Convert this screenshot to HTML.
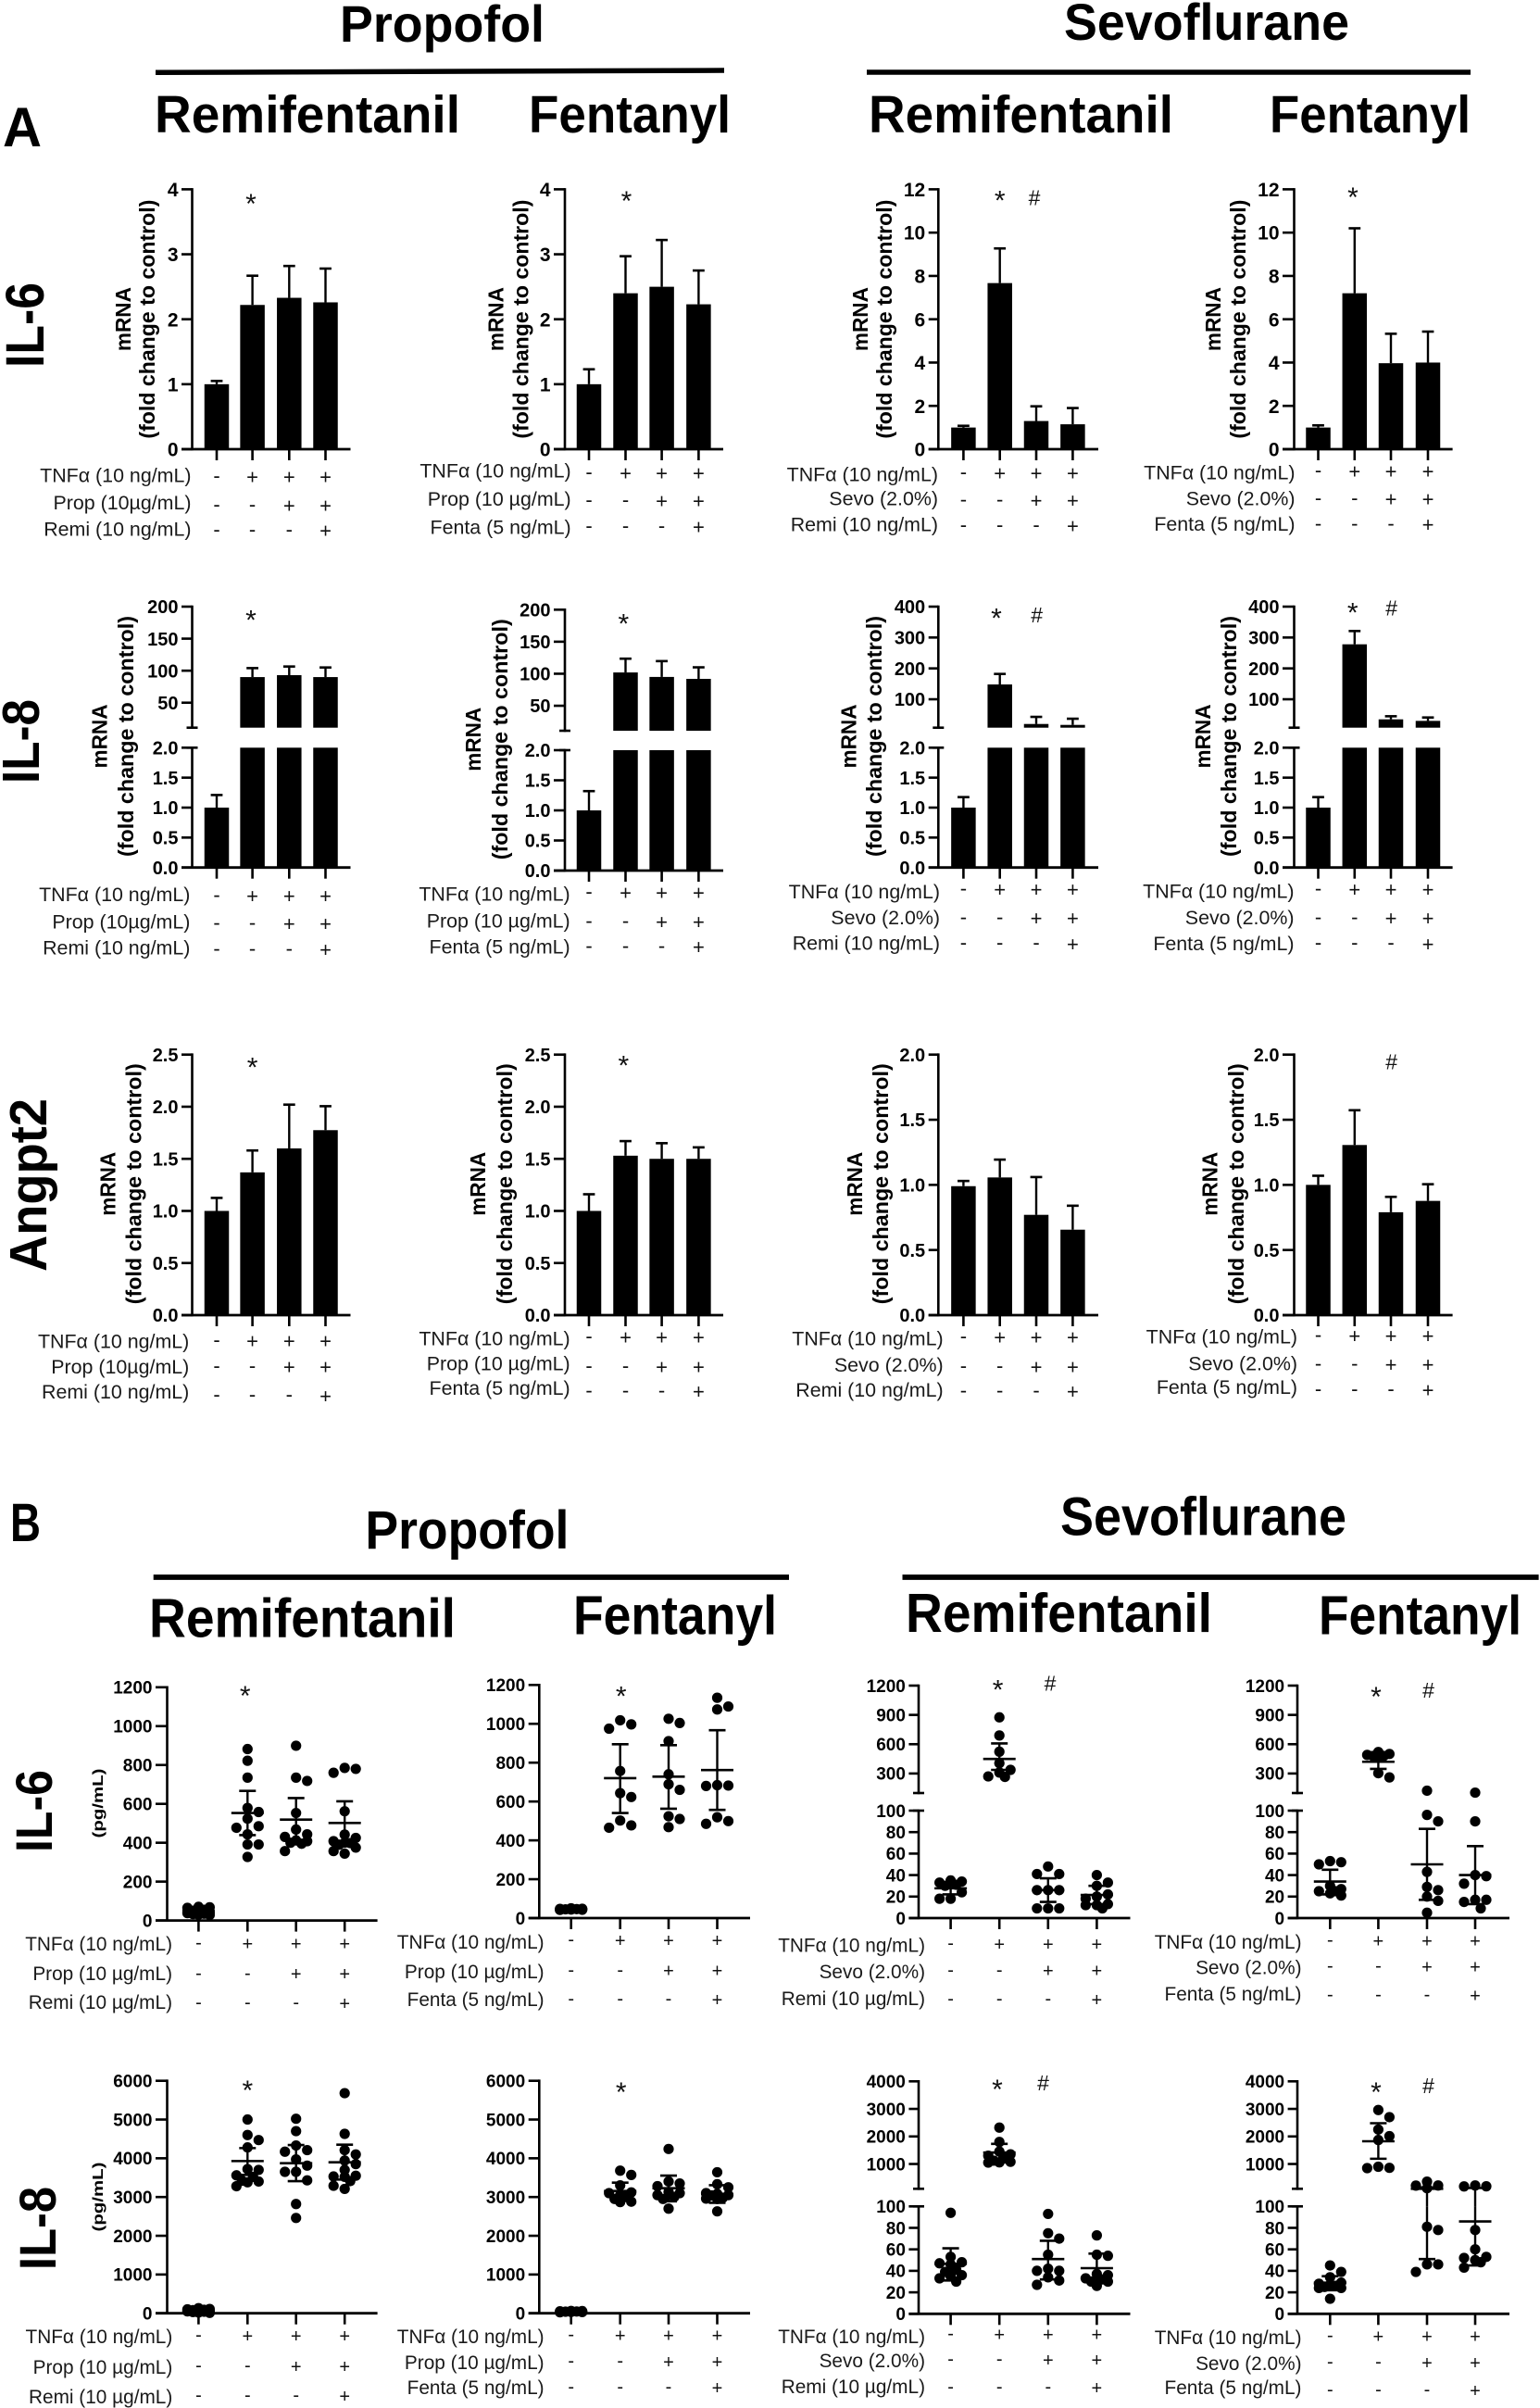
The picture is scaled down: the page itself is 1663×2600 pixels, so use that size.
<!DOCTYPE html>
<html lang="en">
<head>
<meta charset="utf-8">
<title>Cytokine expression under propofol and sevoflurane with remifentanil or fentanyl</title>
<style>
html,body{margin:0;padding:0;background:#fff;}
svg{display:block;}
text{font-family:"Liberation Sans",sans-serif;}
.t{font-weight:bold;fill:#000;}
</style>
</head>
<body>
<svg id="fig" xmlns="http://www.w3.org/2000/svg" width="1663" height="2600" viewBox="0 0 1663 2600">
<rect x="0" y="0" width="1663" height="2600" fill="#fff"/>

<text class="t" x="3" y="158" font-size="60" textLength="42" lengthAdjust="spacingAndGlyphs">A</text>
<text class="t" x="367" y="45" font-size="56" textLength="221" lengthAdjust="spacingAndGlyphs">Propofol</text>
<text class="t" x="1149" y="43" font-size="56" textLength="308" lengthAdjust="spacingAndGlyphs">Sevoflurane</text>
<line x1="168" y1="78.3" x2="782" y2="76" stroke="#000" stroke-width="5.5"/>
<line x1="936" y1="78" x2="1588" y2="78" stroke="#000" stroke-width="5.5"/>
<text class="t" x="167" y="143" font-size="57" textLength="330" lengthAdjust="spacingAndGlyphs">Remifentanil</text>
<text class="t" x="571" y="143" font-size="57" textLength="218" lengthAdjust="spacingAndGlyphs">Fentanyl</text>
<text class="t" x="938" y="143" font-size="57" textLength="329" lengthAdjust="spacingAndGlyphs">Remifentanil</text>
<text class="t" x="1371" y="143" font-size="57" textLength="217" lengthAdjust="spacingAndGlyphs">Fentanyl</text>
<text class="t" transform="translate(47,397) rotate(-90)" font-size="58" textLength="92" lengthAdjust="spacingAndGlyphs">IL-6</text>
<text class="t" transform="translate(42,846) rotate(-90)" font-size="57" textLength="91" lengthAdjust="spacingAndGlyphs">IL-8</text>
<text class="t" transform="translate(50,1373) rotate(-90)" font-size="57" textLength="187" lengthAdjust="spacingAndGlyphs">Angpt2</text>

<text class="t" x="11" y="1664" font-size="58" textLength="33" lengthAdjust="spacingAndGlyphs">B</text>
<text class="t" x="394.4" y="1671.8" font-size="58" textLength="220" lengthAdjust="spacingAndGlyphs">Propofol</text>
<text class="t" x="1145" y="1657.5" font-size="58" textLength="309" lengthAdjust="spacingAndGlyphs">Sevoflurane</text>
<line x1="165.7" y1="1703" x2="852" y2="1703" stroke="#000" stroke-width="5.7"/>
<line x1="974.5" y1="1703" x2="1661.6" y2="1703" stroke="#000" stroke-width="5.7"/>
<text class="t" x="161" y="1767.5" font-size="59" textLength="331" lengthAdjust="spacingAndGlyphs">Remifentanil</text>
<text class="t" x="619" y="1764.6" font-size="59" textLength="220" lengthAdjust="spacingAndGlyphs">Fentanyl</text>
<text class="t" x="978" y="1761.8" font-size="59" textLength="331" lengthAdjust="spacingAndGlyphs">Remifentanil</text>
<text class="t" x="1424" y="1764.6" font-size="59" textLength="219" lengthAdjust="spacingAndGlyphs">Fentanyl</text>
<text class="t" transform="translate(56,2000) rotate(-90)" font-size="56" textLength="89" lengthAdjust="spacingAndGlyphs">IL-6</text>
<text class="t" transform="translate(60,2451) rotate(-90)" font-size="56" textLength="90" lengthAdjust="spacingAndGlyphs">IL-8</text>
</svg>

<script>
/* ---------- DATA: panel A (bar charts, mean and upper error) ---------- */
const il6PropRemiMeans = [1, 2.22, 2.33, 2.26];
const il6PropRemiErrs = [0.05, 0.45, 0.49, 0.52];
const il6PropFentaMeans = [1, 2.4, 2.5, 2.23];
const il6PropFentaErrs = [0.23, 0.57, 0.72, 0.52];
const il6SevoRemiMeans = [1, 7.67, 1.3, 1.15];
const il6SevoRemiErrs = [0.08, 1.6, 0.68, 0.75];
const il6SevoFentaMeans = [1, 7.2, 3.97, 4.0];
const il6SevoFentaErrs = [0.1, 3.0, 1.36, 1.43];

const il8PropRemiMeans = [1, 90, 93, 90];
const il8PropRemiErrs = [0.21, 14, 13.5, 15];
const il8PropFentaMeans = [1, 102, 95, 92];
const il8PropFentaErrs = [0.32, 21.5, 24.7, 18];
const il8SevoRemiMeans = [1, 148, 20, 17];
const il8SevoRemiErrs = [0.175, 34, 23, 20];
const il8SevoFentaMeans = [1, 278, 35, 30];
const il8SevoFentaErrs = [0.175, 43, 10, 11];

const angPropRemiMeans = [1, 1.37, 1.6, 1.775];
const angPropRemiErrs = [0.125, 0.21, 0.42, 0.23];
const angPropFentaMeans = [1, 1.53, 1.5, 1.5];
const angPropFentaErrs = [0.16, 0.14, 0.15, 0.11];
const angSevoRemiMeans = [0.99, 1.057, 0.77, 0.656];
const angSevoRemiErrs = [0.04, 0.137, 0.29, 0.184];
const angSevoFentaMeans = [1, 1.306, 0.79, 0.877];
const angSevoFentaErrs = [0.07, 0.267, 0.118, 0.128];

/* ---------- DATA: panel B (scatter points, mean, SD limits) ---------- */
const bIl6PropRemiG1 = [70, 68, 65, 55, 50, 45, 40, 38, 35, 33, 30, 28];
const bIl6PropRemiG2 = [882, 822, 735, 579, 558, 524, 485, 477, 443, 391, 391, 327];
const bIl6PropRemiG3 = [899, 735, 718, 553, 468, 443, 430, 412, 408, 400, 395, 357];
const bIl6PropRemiG4 = [785, 780, 760, 562, 442, 425, 408, 400, 398, 390, 375, 357, 344];
const bIl6PropRemiMeans = [50, 553, 519, 502];
const bIl6PropRemiHighs = [63, 667, 630, 613];
const bIl6PropRemiLows = [37, 439, 408, 391];

const bIl6PropFentaG1 = [50, 48, 47, 46, 45, 44, 43, 42];
const bIl6PropFentaG2 = [1018, 997, 975, 757, 643, 623, 502, 477, 465];
const bIl6PropFentaG3 = [1026, 1004, 911, 740, 689, 660, 524, 510, 468];
const bIl6PropFentaG4 = [1134, 1089, 1074, 684, 682, 680, 519, 499, 485];
const bIl6PropFentaMeans = [45, 720, 728, 762];
const bIl6PropFentaHighs = [50, 895, 890, 967];
const bIl6PropFentaLows = [40, 541, 563, 557];

const bIl6SevoRemiG1 = [35, 34, 33, 31, 30, 24, 18, 18];
const bIl6SevoRemiG2 = [875, 689, 523, 405, 337, 310, 270, 265];
const bIl6SevoRemiG3 = [48, 41, 41, 26, 26, 26, 9, 9, 9];
const bIl6SevoRemiG4 = [40, 33, 30, 22, 20, 18, 13, 12, 12, 9];
const bIl6SevoRemiMeans = [27.7, 449, 26, 21.5];
const bIl6SevoRemiHighs = [33, 608, 37, 30];
const bIl6SevoRemiLows = [22, 337, 15, 13];

const bIl6SevoFentaG1 = [53, 52, 50, 30, 27, 25, 25, 23, 21];
const bIl6SevoFentaG2 = [520, 500, 490, 480, 480, 470, 303, 260];
const bIl6SevoFentaG3 = [124, 96, 90, 43, 29, 26, 20, 16, 5];
const bIl6SevoFentaG4 = [104, 90, 40, 39, 32, 17, 17, 15, 9];
const bIl6SevoFentaMeans = [34, 420, 50, 40];
const bIl6SevoFentaHighs = [45, 490, 83, 67];
const bIl6SevoFentaLows = [22, 347, 17, 13];

const bIl8PropRemiG1 = [130, 110, 100, 90, 80, 70, 60, 50, 40, 30, 20, 10];
const bIl8PropRemiG2 = [5000, 4600, 4470, 4280, 3720, 3700, 3560, 3520, 3420, 3400, 3380, 3280];
const bIl8PropRemiG3 = [5020, 4700, 4330, 4210, 4170, 3970, 3810, 3650, 3650, 3430, 2820, 2460];
const bIl8PropRemiG4 = [5680, 4630, 4210, 4100, 3940, 3850, 3700, 3550, 3530, 3520, 3410, 3290, 3210];
const bIl8PropRemiMeans = [70, 3928, 3873, 3896];
const bIl8PropRemiHighs = [110, 4263, 4343, 4351];
const bIl8PropRemiLows = [30, 3570, 3410, 3450];

const bIl8PropFentaG1 = [60, 55, 50, 45, 40, 35, 30, 25];
const bIl8PropFentaG2 = [3680, 3570, 3300, 3120, 3100, 3050, 3000, 2950, 2880, 2870];
const bIl8PropFentaG3 = [4240, 3400, 3350, 3280, 3130, 3100, 3050, 3000, 2950, 2700];
const bIl8PropFentaG4 = [3640, 3330, 3250, 3100, 3080, 3050, 3040, 2980, 2960, 2950, 2630];
const bIl8PropFentaMeans = [40, 3155, 3227, 3075];
const bIl8PropFentaHighs = [60, 3370, 3554, 3306];
const bIl8PropFentaLows = [20, 2970, 2890, 2852];

const bIl8SevoRemiG1 = [94, 53, 48, 47, 46, 41, 39, 36, 35, 33, 30];
const bIl8SevoRemiG2 = [2320, 1800, 1450, 1350, 1300, 1200, 1120, 1080, 1060, 1050];
const bIl8SevoRemiG3 = [93, 75, 70, 55, 42, 40, 40, 34, 31, 27];
const bIl8SevoRemiG4 = [73, 55, 54, 37, 36, 33, 32, 30, 30, 26];
const bIl8SevoRemiMeans = [46.5, 1415, 51, 42.5];
const bIl8SevoRemiHighs = [61, 1730, 68, 56];
const bIl8SevoRemiLows = [31, 1100, 32, 29];

const bIl8SevoFentaG1 = [45, 39, 34, 29, 28, 27, 26, 25, 24, 24, 14];
const bIl8SevoFentaG2 = [2960, 2700, 2250, 2010, 1870, 900, 860, 850];
const bIl8SevoFentaG3 = [360, 220, 215, 120, 81, 78, 46, 46, 39];
const bIl8SevoFentaG4 = [220, 190, 185, 78, 60, 53, 52, 50, 48, 43];
const bIl8SevoFentaMeans = [29, 1825, 101, 86];
const bIl8SevoFentaHighs = [35, 2480, 150, 130];
const bIl8SevoFentaLows = [22, 1190, 51, 45];

/* ---------- DATA: tick labels ---------- */
const ticksFold4 = ['0', '1', '2', '3', '4'];
const ticksFold12 = ['0', '2', '4', '6', '8', '10', '12'];
const ticksLower2 = ['0.0', '0.5', '1.0', '1.5', '2.0'];
const ticksUpper200 = ['50', '100', '150', '200'];
const ticksUpper400 = ['100', '200', '300', '400'];
const ticksFold25 = ['0.0', '0.5', '1.0', '1.5', '2.0', '2.5'];
const ticksPg1200 = ['0', '200', '400', '600', '800', '1000', '1200'];
const ticksPg6000 = ['0', '1000', '2000', '3000', '4000', '5000', '6000'];
const ticksLower100 = ['0', '20', '40', '60', '80', '100'];
const ticksUpper1200 = ['300', '600', '900', '1200'];
const ticksUpper4000 = ['1000', '2000', '3000', '4000'];

/* treatment labels and +/- matrix */
const rowTnf = ['-', '+', '+', '+'];
const rowSecond = ['-', '-', '+', '+'];
const rowThird = ['-', '-', '-', '+'];

const SVGNS = 'http://www.w3.org/2000/svg';
const fig = document.getElementById('fig');

function newGroup(name) {
  const el = document.createElementNS(SVGNS, 'g');
  
  
  fig.appendChild(el);
  return el;
}
function line(g, name, x1, y1, x2, y2, w) {
  const el = document.createElementNS(SVGNS, 'line');
  
  
  el.setAttribute('x1', x1);
  el.setAttribute('y1', y1);
  el.setAttribute('x2', x2);
  el.setAttribute('y2', y2);
  el.setAttribute('stroke', '#000');
  el.setAttribute('stroke-width', w);
  g.appendChild(el);
}
function rect(g, name, x, y, w, h) {
  const el = document.createElementNS(SVGNS, 'rect');
  
  
  el.setAttribute('x', x);
  el.setAttribute('y', y);
  el.setAttribute('width', w);
  el.setAttribute('height', Math.max(0, h));
  el.setAttribute('fill', '#000');
  g.appendChild(el);
}
function dot(g, name, x, y) {
  const el = document.createElementNS(SVGNS, 'circle');
  
  
  el.setAttribute('cx', x);
  el.setAttribute('cy', y);
  el.setAttribute('r', 5.6);
  el.setAttribute('fill', '#000');
  g.appendChild(el);
}
function label(g, name, x, y, str, size, anchor, bold, fill, rot, len) {
  const el = document.createElementNS(SVGNS, 'text');
  
  
  if (rot) {
    el.setAttribute('transform', 'translate(' + x + ',' + y + ') rotate(' + rot + ')');
  } else {
    el.setAttribute('x', x);
    el.setAttribute('y', y);
  }
  el.setAttribute('font-size', size);
  el.setAttribute('text-anchor', anchor);
  el.setAttribute('font-weight', bold ? 'bold' : 'normal');
  el.setAttribute('fill', fill);
  if (len) {
    el.setAttribute('textLength', len);
    el.setAttribute('lengthAdjust', 'spacingAndGlyphs');
  }
  el.textContent = str;
  g.appendChild(el);
}

/* y axis: optional two-segment scale */
function makeY(geo) {
  return function (v) {
    if (geo.upTop === undefined || v <= geo.lowMax) {
      return geo.y0 + (geo.yTop - geo.y0) * (v / geo.lowMax);
    }
    return geo.upBot + (geo.upTop - geo.upBot) * ((v - geo.upMin) / (geo.upMax - geo.upMin));
  };
}

function drawAxes(g, geo, y, lowTicks, highTicks, tickFont) {
  line(g, 'y-axis-lower', geo.ax, geo.y0 + 1.2, geo.ax, geo.yTop - 1.3, 2.6);
  line(g, 'x-axis', geo.left, geo.y0, geo.xEnd, geo.y0, 2.8);
  lowTicks.forEach(function (t) {
    const yy = y(Number(t));
    line(g, 'y-tick', geo.left, yy, geo.ax, yy, 2.6);
    label(g, 'y-tick-label', geo.left - 3.5, yy + tickFont * 0.36, t, tickFont, 'end', true, '#000');
  });
  if (geo.upTop !== undefined) {
    line(g, 'y-axis-upper', geo.ax, geo.upBot + 1.3, geo.ax, geo.upTop - 1.3, 2.6);
    line(g, 'y-break-tick-lower', geo.ax - 6, geo.yTop, geo.ax + 6, geo.yTop, 2.6);
    line(g, 'y-break-tick-upper', geo.ax - 6, geo.upBot, geo.ax + 6, geo.upBot, 2.6);
    highTicks.forEach(function (t) {
      const yy = y(Number(t));
      line(g, 'y-tick', geo.left, yy, geo.ax, yy, 2.6);
      label(g, 'y-tick-label', geo.left - 3.5, yy + tickFont * 0.36, t, tickFont, 'end', true, '#000');
    });
  }
  geo.cats.forEach(function (c) {
    line(g, 'x-tick', c, geo.y0, c, geo.y0 + 12, 2.6);
  });
}

function drawMarks(g, marks) {
  marks.forEach(function (m) {
    if (m[0] === '*') {
      label(g, 'significance-star', m[1], m[2] + 17, '*', 30, 'middle', false, '#111');
    } else {
      label(g, 'significance-hash', m[1], m[2] + 8, '#', 23, 'middle', false, '#111');
    }
  });
}

function drawConditions(g, geo, names, font, signFont) {
  const rows = [rowTnf, rowSecond, rowThird];
  names.forEach(function (n, i) {
    label(g, 'treatment-label', geo.condRight, geo.condY[i] + font * 0.34, n, font, 'end', false, '#1a1a1a');
    rows[i].forEach(function (s, j) {
      const off = s === '+' ? signFont * 0.34 : signFont * 0.27;
      label(g, s === '+' ? 'treatment-plus' : 'treatment-minus', geo.cats[j], geo.signY[i] + off, s, signFont, 'middle', false, '#111');
    });
  });
}

/* vertical line that breaks across the axis gap */
function errLine(g, geo, y, x, lo, hi) {
  if (geo.upTop === undefined) {
    line(g, 'error-bar', x, y(lo), x, y(hi), 2.4);
    return;
  }
  if (lo <= geo.lowMax) {
    line(g, 'error-bar', x, y(lo), x, y(Math.min(hi, geo.lowMax)), 2.4);
  }
  if (hi > geo.lowMax) {
    line(g, 'error-bar', x, y(Math.max(lo, geo.upMin)), x, y(hi), 2.4);
  }
}

function barPanel(name, geo, means, errs, lowTicks, highTicks, titleGeo, names) {
  const g = newGroup(name);
  const y = makeY(geo);
  const bw = 26.5;
  means.forEach(function (m, i) {
    const c = geo.cats[i];
    const top = m + errs[i];
    errLine(g, geo, y, c, m, top);
    line(g, 'error-cap', c - 6.4, y(top), c + 6.4, y(top), 2.6);
    if (geo.upTop !== undefined && m > geo.lowMax) {
      rect(g, 'bar-lower', c - bw / 2, geo.yTop, bw, geo.y0 - geo.yTop);
      rect(g, 'bar-upper', c - bw / 2, y(m), bw, geo.upBot - y(m));
    } else {
      rect(g, 'bar', c - bw / 2, y(m), bw, geo.y0 - y(m));
    }
  });
  drawAxes(g, geo, y, lowTicks, highTicks, geo.tickFont);
  label(g, 'y-axis-title-line1', titleGeo.x1, titleGeo.cy, 'mRNA', 23, 'middle', true, '#000', -90, 69);
  label(g, 'y-axis-title-line2', titleGeo.x2, titleGeo.cy, '(fold change to control)', 23, 'middle', true, '#000', -90, titleGeo.len);
  drawMarks(g, geo.marks);
  drawConditions(g, geo, names, 21.4, 22);
}

/* beeswarm offsets are derived from the values */
function swarm(vals, y) {
  const sorted = vals.slice().sort(function (a, b) { return b - a; });
  const slots = [0, 12, -12, 6, -6];
  const placed = [];
  sorted.forEach(function (v) {
    const yy = y(v);
    let best = 0;
    let bestClear = -1;
    for (let k = 0; k < slots.length; k++) {
      let clear = 1e9;
      placed.forEach(function (p) {
        clear = Math.min(clear, Math.hypot(p.dx - slots[k], p.y - yy));
      });
      if (clear >= 10) {
        best = slots[k];
        bestClear = clear;
        break;
      }
      if (clear > bestClear) {
        best = slots[k];
        bestClear = clear;
      }
    }
    placed.push({ dx: best, y: yy });
  });
  return placed;
}

function scatterPanel(name, geo, groups, means, highs, lows, lowTicks, highTicks, unitY, names) {
  const g = newGroup(name);
  const y = makeY(geo);
  groups.forEach(function (vals, i) {
    swarm(vals, y).forEach(function (p) {
      dot(g, 'data-point', geo.cats[i] + p.dx, p.y);
    });
  });
  means.forEach(function (m, i) {
    const c = geo.cats[i];
    errLine(g, geo, y, c, lows[i], highs[i]);
    line(g, 'mean-line', c - 17.5, y(m), c + 17.5, y(m), 2.6);
    line(g, 'sd-cap-high', c - 9, y(highs[i]), c + 9, y(highs[i]), 2.6);
    line(g, 'sd-cap-low', c - 9, y(lows[i]), c + 9, y(lows[i]), 2.6);
  });
  drawAxes(g, geo, y, lowTicks, highTicks, 19);
  if (unitY) {
    label(g, 'y-axis-title', 111, unitY, '(pg/mL)', 16, 'middle', true, '#000', -90, 75);
  }
  drawMarks(g, geo.marks);
  drawConditions(g, geo, names, 20.8, 20);
}

/* ---------- Layout ---------- */
const namesPR = ['TNFα (10 ng/mL)', 'Prop (10µg/mL)', 'Remi (10 ng/mL)'];
const namesPF = ['TNFα (10 ng/mL)', 'Prop (10 µg/mL)', 'Fenta (5 ng/mL)'];
const namesSR = ['TNFα (10 ng/mL)', 'Sevo (2.0%)', 'Remi (10 ng/mL)'];
const namesSF = ['TNFα (10 ng/mL)', 'Sevo (2.0%)', 'Fenta (5 ng/mL)'];
const namesBPR = ['TNFα (10 ng/mL)', 'Prop (10 µg/mL)', 'Remi (10 µg/mL)'];
const namesBPF = ['TNFα (10 ng/mL)', 'Prop (10 µg/mL)', 'Fenta (5 ng/mL)'];
const namesBSR = ['TNFα (10 ng/mL)', 'Sevo (2.0%)', 'Remi (10 µg/mL)'];
const namesBSF = ['TNFα (10 ng/mL)', 'Sevo (2.0%)', 'Fenta (5 ng/mL)'];

const xA1 = { ax: 207.5, left: 196, xEnd: 378.5, cats: [234, 272.6, 312.3, 351.5] };
const xA2 = { ax: 610, left: 598, xEnd: 781, cats: [636, 675.5, 714.6, 754.4] };
const xA3 = { ax: 1013.3, left: 1002.7, xEnd: 1186, cats: [1040.4, 1079.7, 1119, 1158.4] };
const xA4 = { ax: 1397.5, left: 1385, xEnd: 1568.6, cats: [1423.5, 1462.8, 1502, 1542] };
const xB1 = { ax: 180.5, left: 168, xEnd: 407.6, cats: [214.4, 267.3, 319.7, 372.2] };
const xB2 = { ax: 582.3, left: 570.7, xEnd: 810, cats: [616.7, 669.7, 722, 774.5] };
const xB3 = { ax: 992, left: 981.4, xEnd: 1220.5, cats: [1026.6, 1079.2, 1131.8, 1184.4] };
const xB4 = { ax: 1401, left: 1390.6, xEnd: 1630, cats: [1436.3, 1488.4, 1541, 1593] };

function geom(x, extra) {
  return Object.assign({}, x, extra);
}

/* Row A: IL-6 */
barPanel('chart-a-il6-propofol-remifentanil', geom(xA1, { y0: 485, yTop: 204.4, lowMax: 4, tickFont: 21,
  condRight: 206.5, condY: [513, 542.5, 571], signY: [515, 546, 573], marks: [['*', 271, 213]] }),
  il6PropRemiMeans, il6PropRemiErrs, ticksFold4, [], { x1: 141, x2: 167, cy: 344.6, len: 258 }, namesPR);
barPanel('chart-a-il6-propofol-fentanyl', geom(xA2, { y0: 485, yTop: 204.4, lowMax: 4, tickFont: 21,
  condRight: 616.7, condY: [508, 538.6, 569], signY: [511, 541, 569], marks: [['*', 676.5, 210]] }),
  il6PropFentaMeans, il6PropFentaErrs, ticksFold4, [], { x1: 543.7, x2: 570.7, cy: 344.6, len: 258 }, namesPF);
barPanel('chart-a-il6-sevoflurane-remifentanil', geom(xA3, { y0: 485, yTop: 204.4, lowMax: 12, tickFont: 21,
  condRight: 1013, condY: [512, 538, 566], signY: [511, 540.5, 568], marks: [['*', 1079.7, 209.6], ['#', 1117, 213.5]] }),
  il6SevoRemiMeans, il6SevoRemiErrs, ticksFold12, [], { x1: 937, x2: 963, cy: 344.6, len: 258 }, namesSR);
barPanel('chart-a-il6-sevoflurane-fentanyl', geom(xA4, { y0: 485, yTop: 204.4, lowMax: 12, tickFont: 21,
  condRight: 1398.5, condY: [510, 538, 565.5], signY: [509, 539, 566.6], marks: [['*', 1461, 206]] }),
  il6SevoFentaMeans, il6SevoFentaErrs, ticksFold12, [], { x1: 1318, x2: 1345, cy: 344.6, len: 258 }, namesSF);

/* Row A: IL-8 */
barPanel('chart-a-il8-propofol-remifentanil', geom(xA1, { y0: 936.7, yTop: 807.3, lowMax: 2, upBot: 785.7, upTop: 655, upMin: 11, upMax: 200, tickFont: 20,
  condRight: 205.4, condY: [965.7, 995, 1023.3], signY: [967.7, 997.7, 1025.7], marks: [['*', 271, 662.4]] }),
  il8PropRemiMeans, il8PropRemiErrs, ticksLower2, ticksUpper200, { x1: 115.4, x2: 144, cy: 795, len: 260 }, namesPR);
barPanel('chart-a-il8-propofol-fentanyl', geom(xA2, { y0: 940, yTop: 810, lowMax: 2, upBot: 789, upTop: 658.3, upMin: 11, upMax: 200, tickFont: 20,
  condRight: 615.7, condY: [965, 994, 1022.4], signY: [964.2, 995.7, 1022.4], marks: [['*', 673.4, 666.6]] }),
  il8PropFentaMeans, il8PropFentaErrs, ticksLower2, ticksUpper200, { x1: 518.8, x2: 548, cy: 798.3, len: 260 }, namesPF);
barPanel('chart-a-il8-sevoflurane-remifentanil', geom(xA3, { y0: 936.7, yTop: 807.3, lowMax: 2, upBot: 785.7, upTop: 655, upMin: 8, upMax: 400, tickFont: 20,
  condRight: 1015, condY: [962.6, 990.7, 1018.3], signY: [960.7, 991.7, 1019.3], marks: [['*', 1076, 660.7], ['#', 1119.6, 664]] }),
  il8SevoRemiMeans, il8SevoRemiErrs, ticksLower2, ticksUpper400, { x1: 924.6, x2: 952, cy: 795, len: 260 }, namesSR);
barPanel('chart-a-il8-sevoflurane-fentanyl', geom(xA4, { y0: 936.7, yTop: 807.3, lowMax: 2, upBot: 785.7, upTop: 655, upMin: 8, upMax: 400, tickFont: 20,
  condRight: 1397.5, condY: [962, 990.7, 1018.8], signY: [960.7, 991.7, 1019.3], marks: [['*', 1460.7, 654.3], ['#', 1502.7, 656.7]] }),
  il8SevoFentaMeans, il8SevoFentaErrs, ticksLower2, ticksUpper400, { x1: 1307, x2: 1335, cy: 795, len: 260 }, namesSF);

/* Row A: Angpt2 */
barPanel('chart-a-angpt2-propofol-remifentanil', geom(xA1, { y0: 1420, yTop: 1138.7, lowMax: 2.5, tickFont: 20,
  condRight: 204.3, condY: [1448.2, 1475.7, 1502.8], signY: [1448.2, 1476, 1507.3], marks: [['*', 272.6, 1145.6]] }),
  angPropRemiMeans, angPropRemiErrs, ticksFold25, [], { x1: 124.4, x2: 152.5, cy: 1278.3, len: 260 }, namesPR);
barPanel('chart-a-angpt2-propofol-fentanyl', geom(xA2, { y0: 1420, yTop: 1138.7, lowMax: 2.5, tickFont: 20,
  condRight: 615.7, condY: [1445, 1472, 1498.8], signY: [1444.2, 1476, 1502.4], marks: [['*', 673.4, 1143.3]] }),
  angPropFentaMeans, angPropFentaErrs, ticksFold25, [], { x1: 524, x2: 553, cy: 1278.3, len: 260 }, namesPF);
barPanel('chart-a-angpt2-sevoflurane-remifentanil', geom(xA3, { y0: 1420, yTop: 1138.7, lowMax: 2, tickFont: 20,
  condRight: 1018.6, condY: [1445, 1473.5, 1500.8], signY: [1444.2, 1476, 1502.4], marks: [] }),
  angSevoRemiMeans, angSevoRemiErrs, ticksLower2, [], { x1: 931, x2: 959, cy: 1278.3, len: 260 }, namesSR);
barPanel('chart-a-angpt2-sevoflurane-fentanyl', geom(xA4, { y0: 1420, yTop: 1138.7, lowMax: 2, tickFont: 20,
  condRight: 1401, condY: [1443.2, 1472, 1497.5], signY: [1442.6, 1473.5, 1501], marks: [['#', 1502.7, 1146.6]] }),
  angSevoFentaMeans, angSevoFentaErrs, ticksLower2, [], { x1: 1314.6, x2: 1342.8, cy: 1278.3, len: 260 }, namesSF);

/* Row B: IL-6 */
scatterPanel('chart-b-il6-propofol-remifentanil', geom(xB1, { y0: 2073.6, yTop: 1821.8, lowMax: 1200,
  condRight: 186, condY: [2099, 2130.7, 2162], signY: [2098.6, 2131.4, 2163], marks: [['*', 264.7, 1824]] }),
  [bIl6PropRemiG1, bIl6PropRemiG2, bIl6PropRemiG3, bIl6PropRemiG4], bIl6PropRemiMeans, bIl6PropRemiHighs, bIl6PropRemiLows,
  ticksPg1200, [], 1947, namesBPR);
scatterPanel('chart-b-il6-propofol-fentanyl', geom(xB2, { y0: 2071, yTop: 1819.3, lowMax: 1200,
  condRight: 587.6, condY: [2096.8, 2129, 2159], signY: [2095, 2127.9, 2159.3], marks: [['*', 670.7, 1824.6]] }),
  [bIl6PropFentaG1, bIl6PropFentaG2, bIl6PropFentaG3, bIl6PropFentaG4], bIl6PropFentaMeans, bIl6PropFentaHighs, bIl6PropFentaLows,
  ticksPg1200, [], 0, namesBPF);
scatterPanel('chart-b-il6-sevoflurane-remifentanil', geom(xB3, { y0: 2071, yTop: 1955, lowMax: 100, upBot: 1936, upTop: 1820, upMin: 100, upMax: 1200,
  condRight: 999, condY: [2100.4, 2129, 2158], signY: [2099, 2127.9, 2159.3], marks: [['*', 1077.6, 1817.5], ['#', 1134, 1817.5]] }),
  [bIl6SevoRemiG1, bIl6SevoRemiG2, bIl6SevoRemiG3, bIl6SevoRemiG4], bIl6SevoRemiMeans, bIl6SevoRemiHighs, bIl6SevoRemiLows,
  ticksLower100, ticksUpper1200, 0, namesBSR);
scatterPanel('chart-b-il6-sevoflurane-fentanyl', geom(xB4, { y0: 2071, yTop: 1955, lowMax: 100, upBot: 1936, upTop: 1820, upMin: 100, upMax: 1200,
  condRight: 1405.5, condY: [2096.8, 2124.3, 2152.9], signY: [2095.7, 2123.6, 2154.6], marks: [['*', 1486, 1825], ['#', 1542.5, 1825]] }),
  [bIl6SevoFentaG1, bIl6SevoFentaG2, bIl6SevoFentaG3, bIl6SevoFentaG4], bIl6SevoFentaMeans, bIl6SevoFentaHighs, bIl6SevoFentaLows,
  ticksLower100, ticksUpper1200, 0, namesBSF);

/* Row B: IL-8 */
scatterPanel('chart-b-il8-propofol-remifentanil', geom(xB1, { y0: 2497.7, yTop: 2246.7, lowMax: 6000,
  condRight: 186.3, condY: [2523, 2556, 2587.7], signY: [2522, 2555, 2587], marks: [['*', 267.3, 2250]] }),
  [bIl8PropRemiG1, bIl8PropRemiG2, bIl8PropRemiG3, bIl8PropRemiG4], bIl8PropRemiMeans, bIl8PropRemiHighs, bIl8PropRemiLows,
  ticksPg6000, [], 2372, namesBPR);
scatterPanel('chart-b-il8-propofol-fentanyl', geom(xB2, { y0: 2497.7, yTop: 2246.7, lowMax: 6000,
  condRight: 587.6, condY: [2523, 2550.7, 2578], signY: [2521.7, 2550, 2578], marks: [['*', 670.7, 2252]] }),
  [bIl8PropFentaG1, bIl8PropFentaG2, bIl8PropFentaG3, bIl8PropFentaG4], bIl8PropFentaMeans, bIl8PropFentaHighs, bIl8PropFentaLows,
  ticksPg6000, [], 0, namesBPF);
scatterPanel('chart-b-il8-sevoflurane-remifentanil', geom(xB3, { y0: 2498.3, yTop: 2382.3, lowMax: 100, upBot: 2363.3, upTop: 2247.3, upMin: 100, upMax: 4000,
  condRight: 999, condY: [2522.7, 2549, 2576.7], signY: [2520.7, 2548.3, 2578], marks: [['*', 1077, 2249], ['#', 1126.5, 2249]] }),
  [bIl8SevoRemiG1, bIl8SevoRemiG2, bIl8SevoRemiG3, bIl8SevoRemiG4], bIl8SevoRemiMeans, bIl8SevoRemiHighs, bIl8SevoRemiLows,
  ticksLower100, ticksUpper4000, 0, namesBSR);
scatterPanel('chart-b-il8-sevoflurane-fentanyl', geom(xB4, { y0: 2498.3, yTop: 2382.3, lowMax: 100, upBot: 2363.3, upTop: 2247.3, upMin: 100, upMax: 4000,
  condRight: 1405.5, condY: [2524, 2551.7, 2578], signY: [2522.7, 2551, 2581], marks: [['*', 1486, 2252], ['#', 1542.5, 2252]] }),
  [bIl8SevoFentaG1, bIl8SevoFentaG2, bIl8SevoFentaG3, bIl8SevoFentaG4], bIl8SevoFentaMeans, bIl8SevoFentaHighs, bIl8SevoFentaLows,
  ticksLower100, ticksUpper4000, 0, namesBSF);
</script>
</body>
</html>
